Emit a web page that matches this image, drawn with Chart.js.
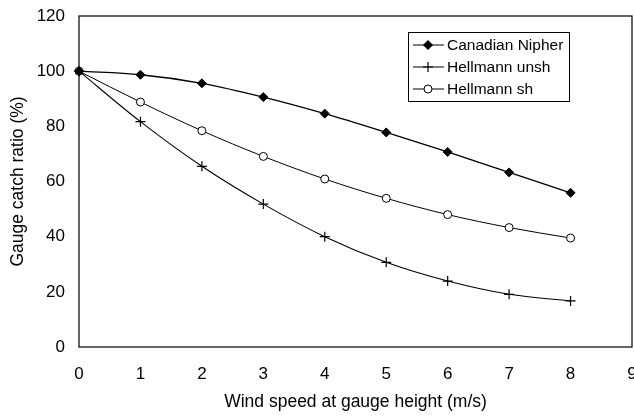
<!DOCTYPE html>
<html>
<head>
<meta charset="utf-8">
<script src="https://cdn.jsdelivr.net/npm/chart.js@4/dist/chart.umd.min.js"></script>
<style>
  html, body { margin: 0; padding: 0; background: #fff; }
  #wrap { width: 634px; height: 418px; }
</style>
</head>
<body>
<div id="wrap"><canvas id="myChart" width="634" height="418"></canvas></div>
<script>
//data
const windSpeed = [0, 1, 2, 3, 4, 5, 6, 7, 8];
const canadianNipher = [100, 98.7, 95.6, 90.6, 84.6, 77.8, 70.7, 63.3, 55.9];
const hellmannUnsh = [100, 81.7, 65.5, 51.8, 40.0, 30.7, 23.9, 19.1, 16.7];
const hellmannSh = [100, 88.8, 78.4, 69.1, 60.9, 53.9, 48.0, 43.3, 39.5];
const seriesNames = ['Canadian Nipher', 'Hellmann unsh', 'Hellmann sh'];

const FONT = "'Liberation Sans', Arial, sans-serif";

function pts(vals) {
  return windSpeed.map((x, i) => ({x: x, y: vals[i]}));
}

//frame round the plot area
const framePlugin = {
  id: 'frame',
  beforeDatasetsDraw(chart) {
    const a = chart.chartArea, ctx = chart.ctx;
    ctx.save();
    ctx.strokeStyle = '#000';
    ctx.lineWidth = 1.2;
    ctx.strokeRect(a.left, a.top, a.right - a.left, a.bottom - a.top);
    ctx.restore();
  }
};

//boxed legend inside the plot
const boxLegend = {
  id: 'boxLegend',
  afterDraw(chart) {
    const ctx = chart.ctx;
    const bx = 408, by = 32, bw = 161, bh = 69;
    ctx.save();
    ctx.fillStyle = '#fff';
    ctx.fillRect(bx, by, bw, bh);
    ctx.strokeStyle = '#000';
    ctx.lineWidth = 1;
    ctx.strokeRect(bx + 0.5, by + 0.5, bw, bh);
    ctx.font = '15.5px ' + FONT;
    ctx.textBaseline = 'middle';
    chart.data.datasets.forEach((ds, i) => {
      const y = by + 13 + i * 22;
      ctx.strokeStyle = '#000';
      ctx.lineWidth = 1;
      ctx.beginPath();
      ctx.moveTo(bx + 5, y);
      ctx.lineTo(bx + 36, y);
      ctx.stroke();
      ctx.fillStyle = ds.pointBackgroundColor;
      ctx.strokeStyle = ds.pointBorderColor;
      ctx.lineWidth = ds.pointBorderWidth || 1;
      Chart.helpers.drawPoint(ctx, {
        pointStyle: ds.pointStyle,
        radius: ds.pointRadius,
        borderWidth: ds.pointBorderWidth || 1
      }, bx + 20, y);
      ctx.fillStyle = '#000';
      ctx.fillText(ds.label, bx + 39, y + 1);
    });
    ctx.restore();
  }
};

const config = {
  type: 'line',
  data: {
    datasets: [{
      label: seriesNames[0],
      data: pts(canadianNipher),
      borderColor: '#000',
      borderWidth: 1.3,
      pointStyle: 'rectRot',
      pointRadius: 4.5,
      pointBorderWidth: 1,
      pointBackgroundColor: '#000',
      pointBorderColor: '#000',
      cubicInterpolationMode: 'monotone',
      clip: false
    },
    {
      label: seriesNames[1],
      data: pts(hellmannUnsh),
      borderColor: '#000',
      borderWidth: 1.1,
      pointStyle: 'cross',
      pointRadius: 5,
      pointBorderWidth: 1.2,
      pointBackgroundColor: '#000',
      pointBorderColor: '#000',
      cubicInterpolationMode: 'monotone',
      clip: false
    },
    {
      label: seriesNames[2],
      data: pts(hellmannSh),
      borderColor: '#000',
      borderWidth: 1,
      pointStyle: 'circle',
      pointRadius: 4,
      pointBorderWidth: 1,
      pointBackgroundColor: '#fff',
      pointBorderColor: '#000',
      cubicInterpolationMode: 'monotone',
      clip: false
    }]
  },
  options: {
    responsive: false,
    animation: false,
    layout: { autoPadding: false, padding: { top: 16, right: 2, left: 0, bottom: 0 } },
    plugins: {
      legend: { display: false },
      tooltip: { enabled: false }
    },
    scales: {
      x: {
        type: 'linear',
        min: 0, max: 9,
        grid: { display: false, drawTicks: false },
        border: { display: false },
        ticks: { stepSize: 1, padding: 17, color: '#000', font: { family: FONT, size: 17 } },
        title: {
          display: true, text: 'Wind speed at gauge height (m/s)',
          color: '#000', font: { family: FONT, size: 17.5 },
          padding: { top: 0, bottom: 5 }
        },
        afterFit(scale) { scale.height = 71; scale.paddingRight = 0; scale.paddingLeft = 0; }
      },
      y: {
        min: 0, max: 120,
        grid: { display: false, drawTicks: false },
        border: { display: false },
        ticks: { stepSize: 20, padding: 14, color: '#000', font: { family: FONT, size: 17 } },
        title: {
          display: true, text: 'Gauge catch ratio (%)',
          color: '#000', font: { family: FONT, size: 17.5 },
          padding: { top: 8, bottom: 0 }
        },
        afterFit(scale) { scale.width = 79; scale.paddingTop = 0; scale.paddingBottom = 0; }
      }
    }
  },
  plugins: [framePlugin, boxLegend]
};

let myChart = new Chart(document.getElementById('myChart'), config);
</script>
</body>
</html>
